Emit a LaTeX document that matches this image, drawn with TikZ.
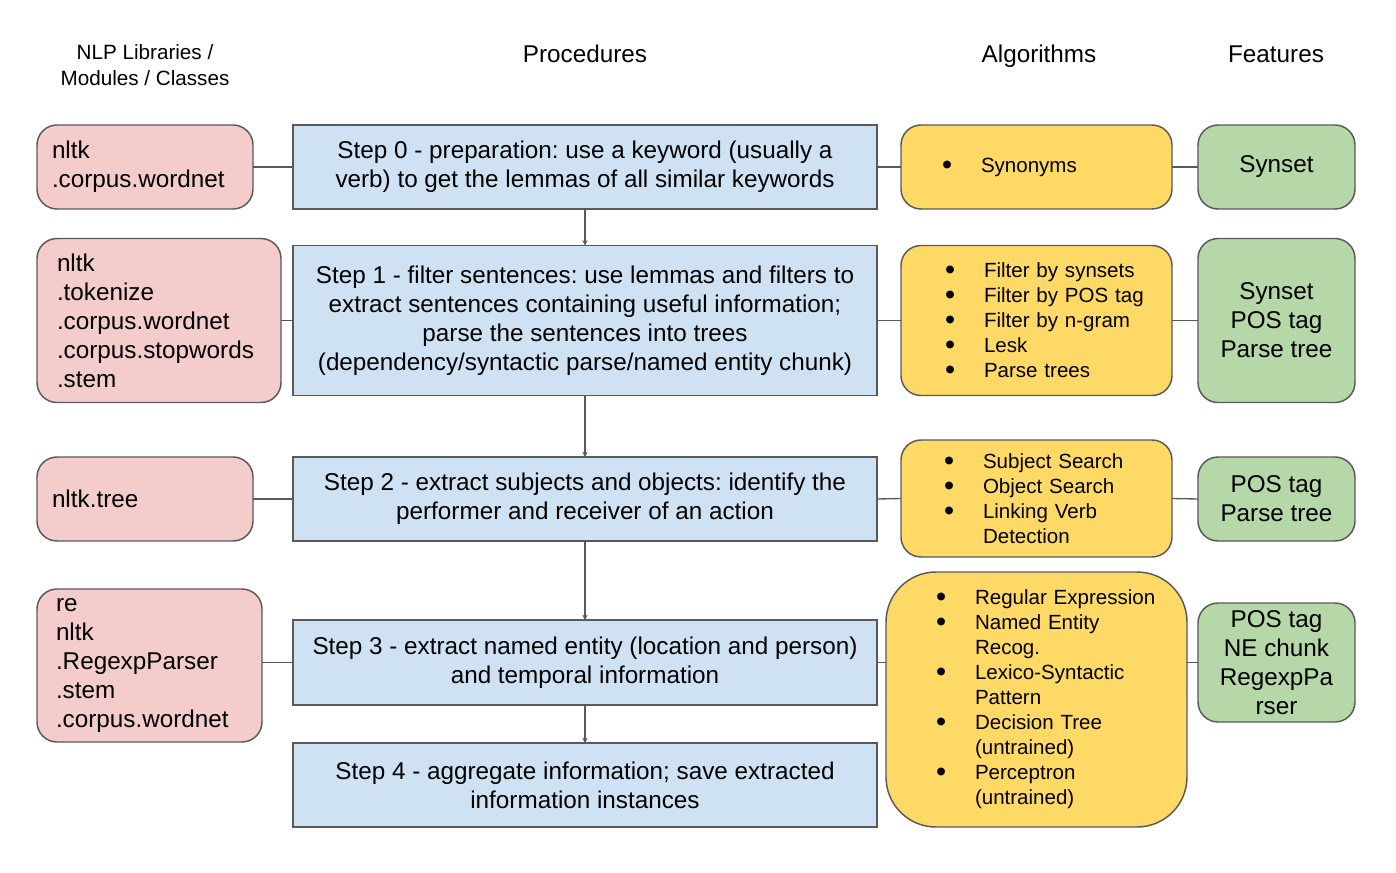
\documentclass[tikz,border=0pt]{standalone}
\usepackage{fontspec}
\usepackage{graphicx}
\setmainfont{Liberation Sans}
\usetikzlibrary{arrows.meta}
\frenchspacing
\definecolor{pinkf}{HTML}{F4CCCC}
\definecolor{bluef}{HTML}{CFE2F3}
\definecolor{yellowf}{HTML}{FFD966}
\definecolor{greenf}{HTML}{B6D7A8}
\definecolor{edge}{HTML}{595959}
\newcommand{\mainfont}{\fontsize{18.2}{21.75}\selectfont}
\newcommand{\algfont}{\fontsize{15.4}{18.75}\selectfont}
\newcommand{\bit}[1]{\mbox{\makebox[29.25pt][l]{\smash{\raisebox{-1.5pt}{\scalebox{1.4}{\textbullet}}}}#1}}
\newcommand{\bgap}[1]{\mbox{\hspace*{29.25pt}#1}}
\tikzset{
  box/.style={draw=edge, line width=1.1pt, inner ysep=0pt, outer sep=0pt},
  libbox/.style={box, fill=pinkf, rounded corners=15pt, align=left, font=\mainfont},
  stepbox/.style={box, fill=bluef, minimum width=438pt, align=center, font=\mainfont},
  algbox/.style={box, fill=yellowf, rounded corners=15pt, align=left, font=\algfont},
  featbox/.style={box, fill=greenf, rounded corners=15pt, minimum width=117.75pt, align=center, font=\mainfont},
  header/.style={align=center, anchor=base, font=\fontsize{18.2}{19}\selectfont},
  link/.style={draw=edge, line width=1pt},
  flow/.style={draw=edge, line width=1pt, -{Stealth[length=4pt,width=4pt]}}
}
\begin{document}
\begin{tikzpicture}[x=0.75pt, y=-0.75pt]
\useasboundingbox (0,0) rectangle (1396,872);
% headers
\node[header, anchor=center, font=\fontsize{15.5}{19}\selectfont] (h1) at (145,65) {NLP Libraries /\\Modules / Classes};
\node[header] (h2) at (585,62) {Procedures};
\node[header] (h3) at (1039,62) {Algorithms};
\node[header] (h4) at (1276,62) {Features};
% library boxes
\node[libbox, minimum width=162pt, minimum height=63pt, inner xsep=11.25pt, text width=139.5pt] (p0) at (145,167) {nltk\\.corpus.wordnet};
\node[libbox, minimum width=183pt, minimum height=123pt, inner xsep=15pt, text width=153pt] (p1) at (159,320.5) {nltk\\.tokenize\\.corpus.wordnet\\.corpus.stopwords\\.stem};
\node[libbox, minimum width=162pt, minimum height=63pt, inner xsep=11.25pt, text width=139.5pt] (p2) at (145,499) {nltk.tree};
\node[libbox, minimum width=168.75pt, minimum height=114.75pt, inner xsep=14.25pt, text width=140.25pt] (p3) at (149.5,665.5) {re\\nltk\\.RegexpParser\\.stem\\.corpus.wordnet};
% step boxes
\node[stepbox, minimum height=63pt] (s0) at (585,167) {Step 0 - preparation: use a keyword (usually a\\verb) to get the lemmas of all similar keywords};
\node[stepbox, minimum height=112.5pt] (s1) at (585,320.5) {Step 1 - filter sentences: use lemmas and filters to\\extract sentences containing useful information;\\parse the sentences into trees\\(dependency/syntactic parse/named entity chunk)};
\node[stepbox, minimum height=63pt] (s2) at (585,499) {Step 2 - extract subjects and objects: identify the\\performer and receiver of an action};
\node[stepbox, minimum height=63.75pt] (s3) at (585,662.5) {Step 3 - extract named entity (location and person)\\and temporal information};
\node[stepbox, minimum height=63pt] (s4) at (585,785) {Step 4 - aggregate information; save extracted\\information instances};
% algorithm boxes
\node[algbox, minimum width=203.25pt, minimum height=63pt, inner xsep=30.75pt, text width=141.75pt] (a0) at (1036.5,167) {\bit{Synonyms}};
\node[algbox, minimum width=203.25pt, minimum height=112.5pt, inner xsep=33pt, text width=137.25pt] (a1) at (1036.5,320.5) {\bit{Filter by synsets}\\\bit{Filter by POS tag}\\\bit{Filter by n-gram}\\\bit{Lesk}\\\bit{Parse trees}};
\node[algbox, minimum width=203.25pt, minimum height=87.75pt, inner xsep=32.25pt, text width=138.75pt] (a2) at (1036.5,498.5) {\bit{Subject Search}\\\bit{Object Search}\\\bit{Linking Verb}\\\bgap{Detection}};
\node[algbox, rounded corners=37.5pt, minimum width=225.75pt, minimum height=191.25pt, inner xsep=37.5pt, text width=150.75pt] (a3) at (1036.5,699.5) {\bit{Regular Expression}\\\bit{Named Entity}\\\bgap{Recog.}\\\bit{Lexico-Syntactic}\\\bgap{Pattern}\\\bit{Decision Tree}\\\bgap{(untrained)}\\\bit{Perceptron}\\\bgap{(untrained)}};
% feature boxes
\node[featbox, minimum height=63pt] (f0) at (1276.5,167) {Synset};
\node[featbox, minimum height=123pt] (f1) at (1276.5,320.5) {Synset\\POS tag\\Parse tree};
\node[featbox, minimum height=63pt] (f2) at (1276.5,499) {POS tag\\Parse tree};
\node[featbox, minimum height=89.25pt] (f3) at (1276.5,662.5) {POS tag\\NE chunk\\RegexpPa\\rser};
% links
\draw[link] (p0.east) -- (s0.west);
\draw[link] (p1.east) -- (s1.west);
\draw[link] (p2.east) -- (s2.west);
\draw[link] (s3.west) -- (s3.west -| p3.east);
\draw[link] (s0.east) -- (a0.west);
\draw[link] (s1.east) -- (a1.west);
\draw[link] (s2.east) -- (a2.west);
\draw[link] (s3.east) -- (s3.east -| a3.west);
\draw[link] (a0.east) -- (f0.west);
\draw[link] (a1.east) -- (f1.west);
\draw[link] (a2.east) -- (f2.west);
\draw[link] (f3.west) -- (f3.west -| a3.east);
% flow
\draw[flow] (s0.south) -- (s1.north);
\draw[flow] (s1.south) -- (s2.north);
\draw[flow] (s2.south) -- (s3.north);
\draw[flow] (s3.south) -- (s4.north);
\end{tikzpicture}
\end{document}
